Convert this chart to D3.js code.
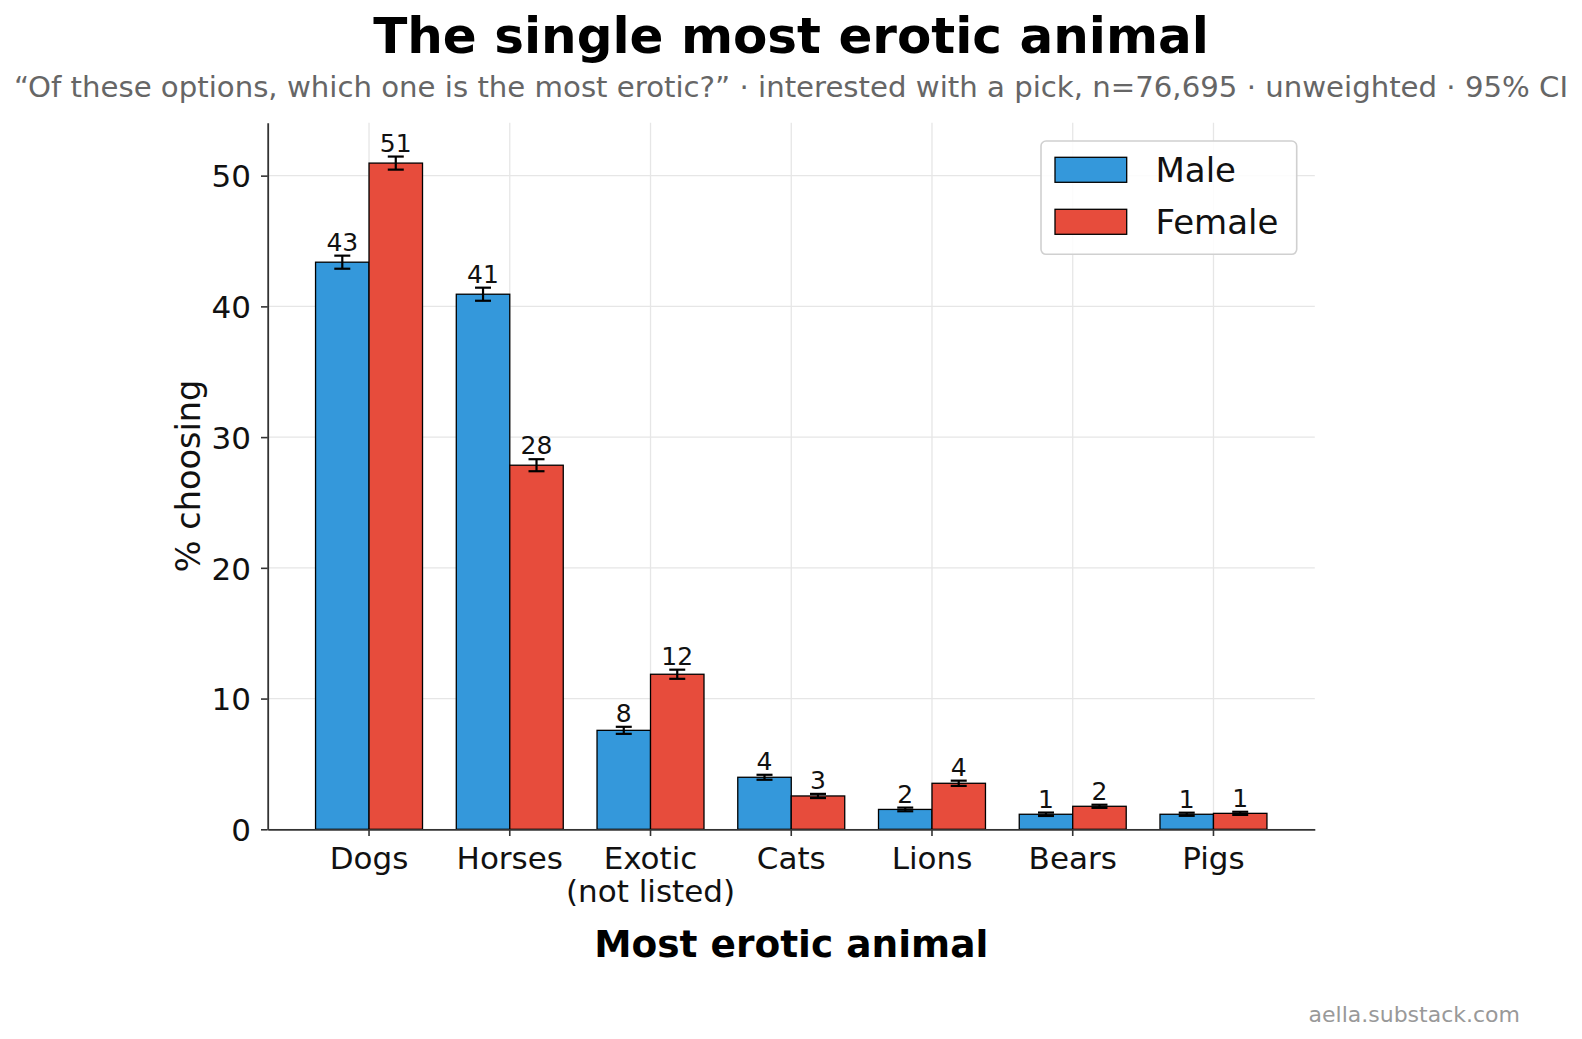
<!DOCTYPE html>
<html>
<head>
<meta charset="utf-8">
<script src="https://cdn.jsdelivr.net/npm/d3@7"></script>
<style>
  body { margin: 0; background: #fff; }
  svg { display: block; font-family: "DejaVu Sans", sans-serif; }
</style>
</head>
<body>
<svg id="chart" width="1582" height="1039"></svg>
<script>
// data (% choosing, 95% CI half widths)
const categories = ["Dogs", "Horses", "Exotic\n(not listed)", "Cats", "Lions", "Bears", "Pigs"];
const sexes = ["Male", "Female"];
const maleValues = [43.38, 40.93, 7.57, 3.98, 1.52, 1.15, 1.15];
const femaleValues = [50.96, 27.85, 11.86, 2.55, 3.52, 1.76, 1.22];
const maleErr = [0.5, 0.5, 0.27, 0.19, 0.14, 0.13, 0.12];
const femaleErr = [0.5, 0.46, 0.35, 0.16, 0.2, 0.12, 0.12];
const yTicks = [0, 10, 20, 30, 40, 50];

const colors = { Male: "#3498db", Female: "#e74c3c" };

const svg = d3.select("#chart");
const W = 1582;
const plot = { left: 267.7, right: 1314.8, top: 122.7, bottom: 829.3 };

// scales
const x = d3.scaleBand().domain(categories)
    .range([plot.left, plot.right]).paddingInner(0).paddingOuter(0.22);
const step = x.step();
const xSub = d3.scaleBand().domain(sexes).range([0.12 * step, 0.88 * step]);
const y = d3.scaleLinear().domain([0, 54.05]).range([plot.bottom, plot.top]);

const rows = [];
categories.forEach((c, i) => {
    rows.push({ cat: c, sex: "Male", v: maleValues[i], e: maleErr[i] });
    rows.push({ cat: c, sex: "Female", v: femaleValues[i], e: femaleErr[i] });
});

// grid
const grid = svg.append("g").attr("stroke", "#e6e6e6").attr("stroke-width", 1.3);
grid.selectAll(".gy").data(yTicks).enter().append("line")
    .attr("x1", plot.left).attr("x2", plot.right)
    .attr("y1", d => y(d)).attr("y2", d => y(d));
grid.selectAll(".gx").data(categories).enter().append("line")
    .attr("x1", d => x(d) + step / 2).attr("x2", d => x(d) + step / 2)
    .attr("y1", plot.top).attr("y2", plot.bottom);

// bars
svg.append("g").selectAll("rect").data(rows).enter().append("rect")
    .attr("x", d => x(d.cat) + xSub(d.sex))
    .attr("width", xSub.bandwidth())
    .attr("y", d => y(d.v))
    .attr("height", d => y(0) - y(d.v))
    .attr("fill", d => colors[d.sex])
    .attr("stroke", "#000")
    .attr("stroke-width", 1.3);

// error bars
const eb = svg.append("g").attr("stroke", "#000").attr("stroke-width", 2.2);
rows.forEach(d => {
    const cx = x(d.cat) + xSub(d.sex) + xSub.bandwidth() / 2;
    const y1 = y(d.v + d.e), y2 = y(d.v - d.e);
    eb.append("line").attr("x1", cx).attr("x2", cx).attr("y1", y1).attr("y2", y2);
    eb.append("line").attr("x1", cx - 8).attr("x2", cx + 8).attr("y1", y1).attr("y2", y1);
    eb.append("line").attr("x1", cx - 8).attr("x2", cx + 8).attr("y1", y2).attr("y2", y2);
});

// value labels
svg.append("g").selectAll("text").data(rows).enter().append("text")
    .attr("x", d => x(d.cat) + xSub(d.sex) + xSub.bandwidth() / 2)
    .attr("y", d => y(d.v + d.e) - 5)
    .attr("text-anchor", "middle")
    .attr("font-size", 25)
    .attr("fill", "#111")
    .text(d => d3.format(".0f")(d.v));

// axes
const yAxis = svg.append("g")
    .attr("transform", `translate(${plot.left},0)`)
    .call(d3.axisLeft(y).tickValues(yTicks).tickSize(6.7).tickSizeOuter(0).tickPadding(10));
yAxis.selectAll("text").attr("font-size", 31).attr("dy", "0.36em").attr("fill", "#111")
    .attr("font-family", "DejaVu Sans");

const xAxis = svg.append("g")
    .attr("transform", `translate(0,${plot.bottom})`)
    .call(d3.axisBottom(x).tickSize(6.7).tickSizeOuter(0).tickPadding(11));
xAxis.selectAll("text").attr("font-size", 31).attr("fill", "#111")
    .attr("font-family", "DejaVu Sans")
    .each(function(d) {
        const t = d3.select(this);
        const lines = d.split("\n");
        t.text(null);
        lines.forEach((ln, i) => {
            t.append("tspan").attr("x", 0).attr("dy", i === 0 ? "0.71em" : "1.06em").text(ln);
        });
    });

svg.selectAll(".domain").attr("stroke", "#333").attr("stroke-width", 1.8);
svg.selectAll(".tick line").attr("stroke", "#333").attr("stroke-width", 1.6);

// legend
const lg = svg.append("g").attr("transform", "translate(1041,141)");
lg.append("rect").attr("width", 255.7).attr("height", 113.3).attr("rx", 5)
    .attr("fill", "#fff").attr("fill-opacity", 0.85)
    .attr("stroke", "#d0d0d0").attr("stroke-width", 1.6);
sexes.forEach((s, i) => {
    lg.append("rect").attr("x", 14).attr("y", 16.3 + i * 52).attr("width", 71.7).attr("height", 25)
        .attr("fill", colors[s]).attr("stroke", "#000").attr("stroke-width", 1.3);
    lg.append("text").attr("x", 114.5).attr("y", 41.3 + i * 52)
        .attr("font-size", 34).attr("fill", "#111").text(s);
});

// titles
svg.append("text").attr("x", W / 2).attr("y", 53.3).attr("text-anchor", "middle")
    .attr("font-size", 50).attr("font-weight", "bold").attr("fill", "#000")
    .text("The single most erotic animal");
svg.append("text").attr("x", W / 2).attr("y", 97).attr("text-anchor", "middle")
    .attr("font-size", 29.2).attr("fill", "#666")
    .text("\u201cOf these options, which one is the most erotic?\u201d \u00b7 interested with a pick, n=76,695 \u00b7 unweighted \u00b7 95% CI");
svg.append("text").attr("transform", `translate(200,${(plot.top + plot.bottom) / 2}) rotate(-90)`)
    .attr("text-anchor", "middle").attr("font-size", 33.5).attr("fill", "#111")
    .text("% choosing");
svg.append("text").attr("x", (plot.left + plot.right) / 2).attr("y", 957.3).attr("text-anchor", "middle")
    .attr("font-size", 37.5).attr("font-weight", "bold").attr("fill", "#000")
    .text("Most erotic animal");
svg.append("text").attr("x", 1520).attr("y", 1021.5).attr("text-anchor", "end")
    .attr("font-size", 22).attr("fill", "#999")
    .text("aella.substack.com");
</script>
</body>
</html>
